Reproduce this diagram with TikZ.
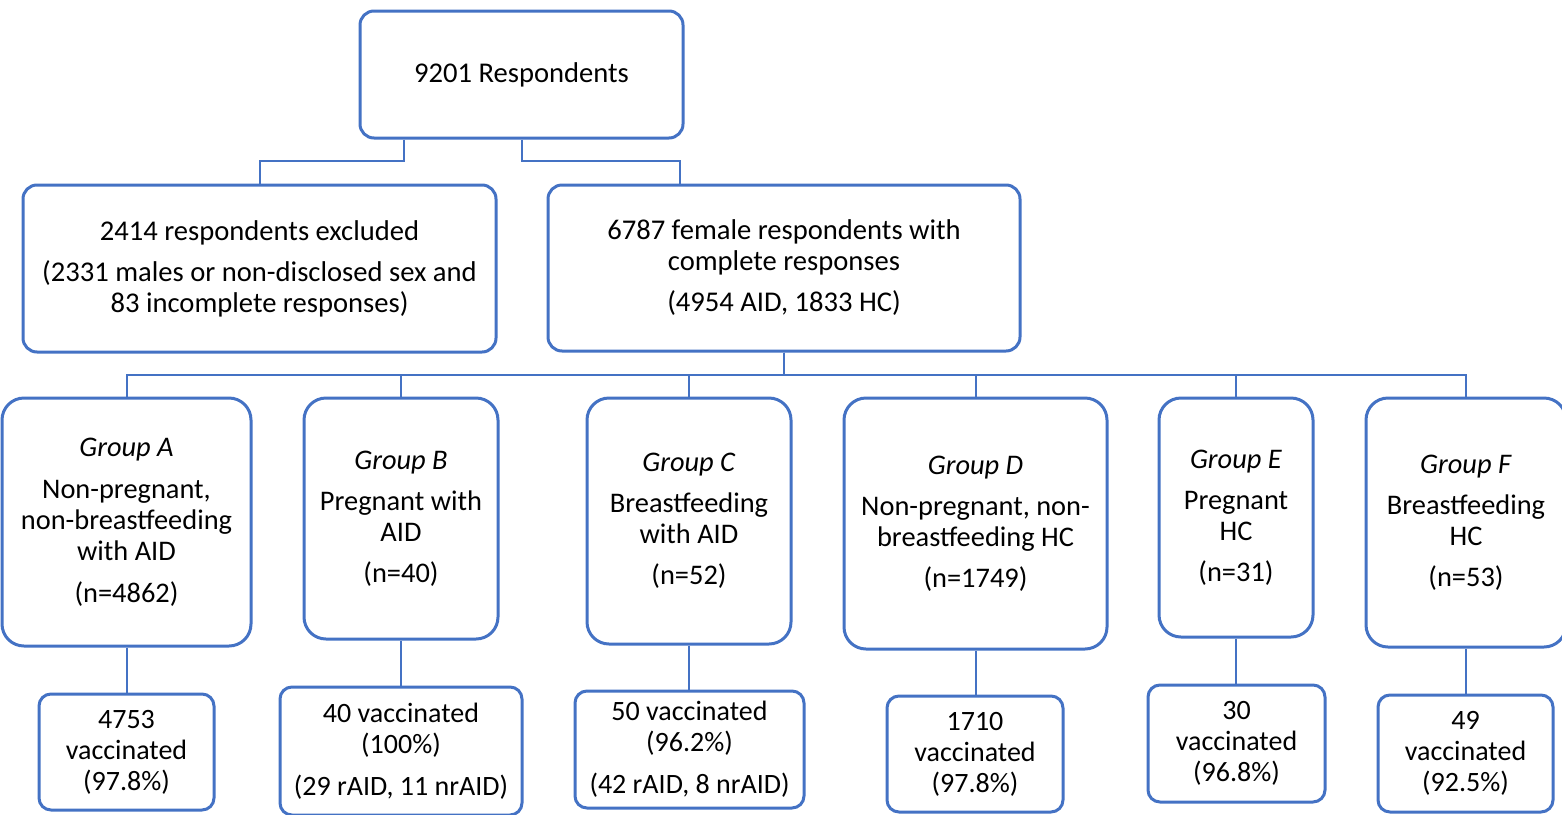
\documentclass[tikz,border=0pt]{standalone}
\usepackage{fontspec}
\setmainfont{Carlito}
\usepackage{tikz}
\usetikzlibrary{shapes,arrows}
\definecolor{boxblue}{HTML}{4472C4}

\begin{document}
\begin{tikzpicture}[x=0.5pt,y=-0.5pt,
    block_top/.style ={rectangle, draw=boxblue, line width=1.5pt, fill=white,
      rounded corners=7pt, align=center, inner sep=0pt,
      font=\fontsize{14.3}{15.5}\selectfont},
    block_group/.style ={rectangle, draw=boxblue, line width=1.5pt, fill=white,
      rounded corners=11pt, align=center, inner sep=0pt,
      font=\fontsize{14.2}{15.5}\selectfont},
    block_vacc/.style ={rectangle, draw=boxblue, line width=1.5pt, fill=white,
      rounded corners=6pt, align=center, inner sep=0pt,
      font=\fontsize{14}{15.5}\selectfont},
    line/.style ={draw=boxblue, line width=1pt}]
    \useasboundingbox (0,0) rectangle (1562,814);
    % respondents and first split
    \node [block_top, minimum width=161.5pt, minimum height=63.5pt] (resp) at (521.5,74.5) {9201 Respondents};
    \node [block_top, minimum width=236.5pt, minimum height=83.5pt] (excl) at (259.5,268.5) {2414 respondents excluded\\[5pt](2331 males or non-disclosed sex and\\83 incomplete responses)};
    \node [block_top, minimum width=236pt, minimum height=83pt] (female) at (784,268) {6787 female respondents with\\complete responses\\[5pt](4954 AID, 1833 HC)};
    % groups
    \node [block_group, minimum width=124.5pt, minimum height=124pt] (grpA) at (126.5,522) {\textit{Group A}\\[5.5pt]Non-pregnant,\\non-breastfeeding\\with AID\\[5.5pt](n=4862)};
    \node [block_group, minimum width=97pt, minimum height=120.5pt] (grpB) at (401,518.5) {\textit{Group B}\\[5pt]Pregnant with\\AID\\[5pt](n=40)};
    \node [block_group, minimum width=102pt, minimum height=123pt] (grpC) at (689,521) {\textit{Group C}\\[5pt]Breastfeeding\\with AID\\[5pt](n=52)};
    \node [block_group, minimum width=131.5pt, minimum height=125.5pt] (grpD) at (975.5,523.5) {\textit{Group D}\\[5pt]Non-pregnant, non-\\breastfeeding HC\\[5pt](n=1749)};
    \node [block_group, minimum width=77pt, minimum height=119.5pt] (grpE) at (1236,517.5) {\textit{Group E}\\[5pt]Pregnant\\HC\\[5pt](n=31)};
    \node [block_group, minimum width=100pt, minimum height=124.5pt] (grpF) at (1466,522.5) {\textit{Group F}\\[5pt]Breastfeeding\\HC\\[5pt](n=53)};
    % vaccinated
    \node [block_vacc, minimum width=87.5pt, minimum height=58pt] (vacA) at (126.5,752) {4753\\vaccinated\\(97.8\%)};
    \node [block_vacc, minimum width=121pt, minimum height=64pt] (vacB) at (401,751) {40 vaccinated\\(100\%)\\[5.5pt](29 rAID, 11 nrAID)};
    \node [block_vacc, minimum width=114.5pt, minimum height=58.5pt] (vacC) at (689.5,749.5) {50 vaccinated\\(96.2\%)\\[5.5pt](42 rAID, 8 nrAID)};
    \node [block_vacc, minimum width=88pt, minimum height=58pt] (vacD) at (975,754) {1710\\vaccinated\\(97.8\%)};
    \node [block_vacc, minimum width=88.5pt, minimum height=58.5pt] (vacE) at (1236.5,743.5) {30\\vaccinated\\(96.8\%)};
    \node [block_vacc, minimum width=87.5pt, minimum height=58.5pt] (vacF) at (1465.5,753.5) {49\\vaccinated\\(92.5\%)};
    % connecting nodes with paths
    \begin{scope}[every path/.style=line]
      \path ([xshift=-59pt]resp.south) -- ++(0,21) -| (excl.north);
      \path (resp.south) -- ++(0,21) -| ([xshift=-52pt]female.north);
      \foreach \g in {grpA,grpB,grpC,grpD,grpE,grpF}
        \path (female.south) -- ++(0,22) -| (\g.north);
      \foreach \g/\v in {grpA/vacA,grpB/vacB,grpC/vacC,grpD/vacD,grpE/vacE,grpF/vacF}
        \path (\g.south) -- (\g.south |- \v.north);
    \end{scope}
  \end{tikzpicture}
\end{document}
